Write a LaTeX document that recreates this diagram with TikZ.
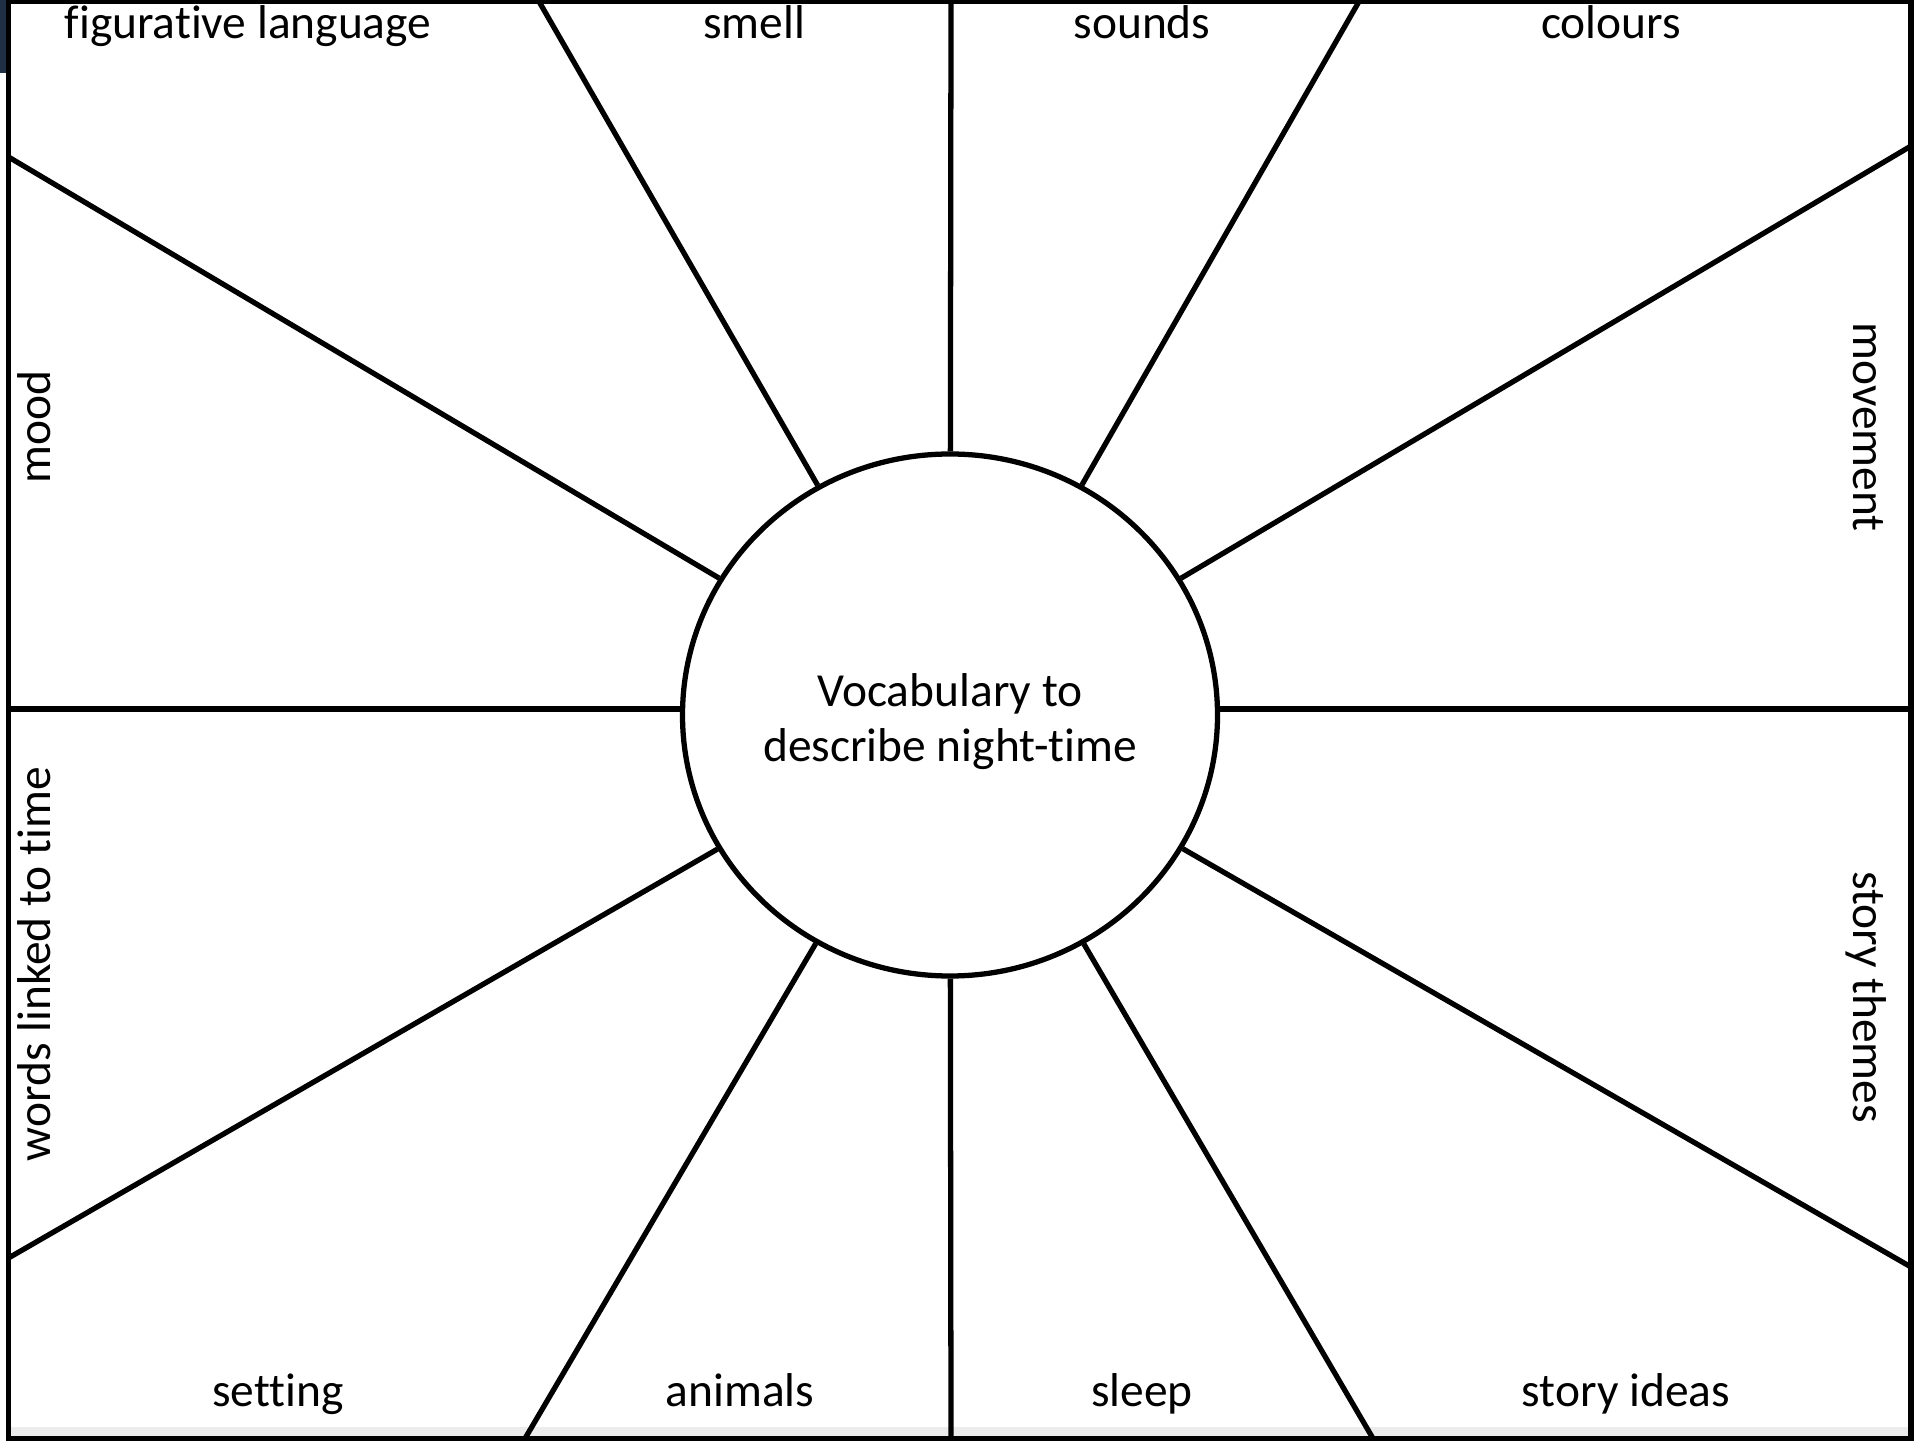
\documentclass[tikz,border=0pt]{standalone}
\usepackage{fontspec}
\setmainfont[Ligatures=NoCommon]{Carlito}
\usetikzlibrary{shapes.geometric}
\definecolor{navy}{RGB}{31,48,68}

\begin{document}
\begin{tikzpicture}[spoke/.style={line width=1.5pt},
  lbl/.style={font=\fontsize{13.5}{16}\selectfont,inner sep=0pt,anchor=base},
  hubnode/.style={draw,ellipse,line width=1.5pt,minimum width=5.35cm,minimum height=5.22cm,inner sep=0pt}]
  \useasboundingbox(0,0) rectangle (19.2,14.4);
  \fill[white](0,0) rectangle (19.2,14.4);
  \fill[navy](0,14.4) rectangle (0.08,13.67);
  \fill[gray!15](0.085,0.03) rectangle (19.11,0.13);
  \draw[spoke](0.085,0.015)--(0.085,14.385)--(19.11,14.385)--(19.11,0.015)--cycle;
  \node[hubnode](hub) at (9.50,7.25){};
  \node[align=center,font=\fontsize{13.5}{15.6}\selectfont](title) at ([yshift=-0.07cm]hub){Vocabulary to\\describe night-time};
  \coordinate(e0) at (19.11,7.31);
  \coordinate(e30) at (19.11,12.94);
  \coordinate(e60) at (13.59,14.385);
  \coordinate(e90) at (9.51,14.385);
  \coordinate(e120) at (5.39,14.385);
  \coordinate(e150) at (0.085,12.83);
  \coordinate(e180) at (0.085,7.31);
  \coordinate(e210) at (0.085,1.82);
  \coordinate(e240) at (5.25,0.015);
  \coordinate(e270) at (9.51,0.015);
  \coordinate(e300) at (13.73,0.015);
  \coordinate(e330) at (19.11,1.73);
  \foreach \a in {30,60,...,150,210,240,...,330}
    \draw[spoke](hub)--(e\a);
  \draw[spoke](hub.east|-e0)--(e0);
  \draw[spoke](hub.west|-e180)--(e180);
  \node[lbl](figurative) at (2.48,14.01){figurative language};
  \node[lbl](smell) at (7.54,14.01){smell};
  \node[lbl](sounds) at (11.42,14.01){sounds};
  \node[lbl](colours) at (16.11,14.01){colours};
  \node[lbl,rotate=90](mood) at (0.50,10.13){mood};
  \node[lbl,rotate=90](timewords) at (0.50,4.76){words linked to time};
  \node[lbl,rotate=-90](movement) at (18.53,10.13){movement};
  \node[lbl,rotate=-90](themes) at (18.53,4.43){story themes};
  \node[lbl](setting) at (2.78,0.34){setting};
  \node[lbl](animals) at (7.40,0.34){animals};
  \node[lbl](sleep) at (11.42,0.34){sleep};
  \node[lbl](ideas) at (16.26,0.34){story ideas};
\end{tikzpicture}
\end{document}
